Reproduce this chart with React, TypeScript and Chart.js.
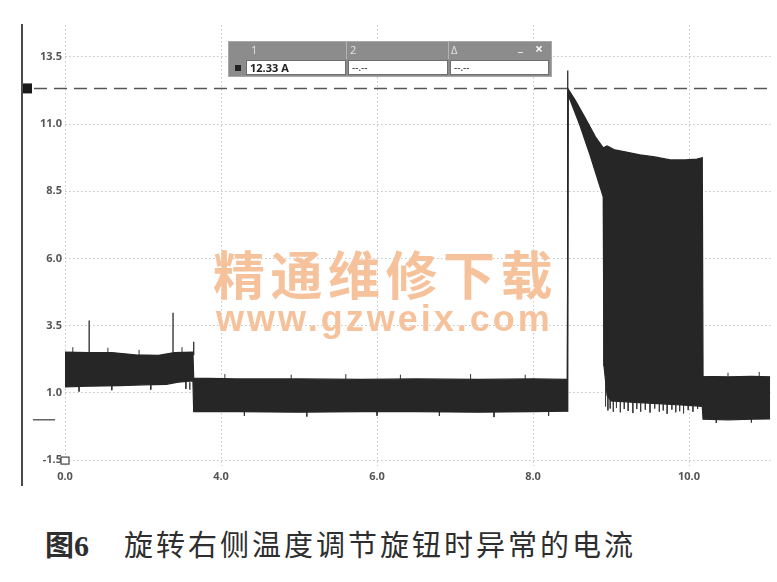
import React, { useEffect, useRef } from "react";
import { Chart, registerables } from "chart.js";

Chart.register(...registerables);

// ---- axis ticks ----
const xTickValues = [2, 4, 6, 8, 10];
const xTickLabels = ["0.0", "4.0", "6.0", "8.0", "10.0"];
const yTickValues = [-1.5, 1.0, 3.5, 6.0, 8.5, 11.0, 13.5];

// ---- trace envelope (time, amperes) ----
const upperT = [2.0, 2.3, 2.6, 2.9, 3.2, 3.4, 3.64,
  3.65, 4.2, 5.0, 5.8, 6.5, 7.3, 8.0, 8.44,
  8.45, 8.54, 8.67, 8.8, 8.9, 8.95, 9.05, 9.18, 9.37, 9.56, 9.76, 9.95, 10.1, 10.17,
  10.18, 10.5, 10.8, 11.04];
const upperV = [2.52, 2.5, 2.5, 2.42, 2.4, 2.5, 2.52,
  1.55, 1.52, 1.52, 1.5, 1.52, 1.5, 1.52, 1.5,
  12.31, 11.9, 11.23, 10.53, 10.12, 10.19, 10.04, 9.97, 9.86, 9.78, 9.67, 9.67, 9.7, 9.75,
  1.62, 1.6, 1.62, 1.6];
const lowerT = [2.0, 2.3, 2.7, 3.0, 3.3, 3.45, 3.64,
  3.65, 4.2, 5.0, 5.8, 6.5, 7.3, 8.0, 8.44,
  8.45, 8.6, 8.73, 8.9, 8.91, 8.95, 9.0, 9.3, 9.6, 9.9, 10.17,
  10.18, 10.5, 10.8, 11.04];
const lowerV = [1.22, 1.25, 1.27, 1.3, 1.32, 1.4, 1.45,
  0.3, 0.3, 0.28, 0.3, 0.3, 0.28, 0.3, 0.32,
  12.09, 10.97, 9.86, 8.3, 2.0, 0.9, 0.7, 0.65, 0.6, 0.55, 0.5,
  0.02, 0.0, 0.02, 0.03];

// ---- isolated spikes (time, from, to) ----
const spikeT = [2.31, 3.385, 3.65, 3.6, 8.445];
const spikeFrom = [2.5, 2.5, 2.4, 1.4, 0.3];
const spikeTo = [3.69, 3.98, 2.9, 1.12, 13.0];

// ---- small noise excursions on the band edges ----
const noiseT = [2.1, 2.18, 2.55, 2.6, 2.95, 3.1, 3.5, 3.55,
  4.05, 4.3, 4.9, 5.1, 5.6, 6.0, 6.3, 6.8, 7.2, 7.5, 7.9, 8.2,
  10.35, 10.5, 10.8, 10.9];
const noiseFrom = [2.5, 1.23, 2.5, 1.27, 2.42, 1.3, 2.5, 1.42,
  1.52, 0.3, 1.52, 0.28, 1.5, 0.3, 1.51, 0.3, 1.51, 0.29, 1.52, 0.3,
  0.0, 1.6, 0.02, 1.61];
const noiseTo = [2.7, 1.05, 2.68, 1.1, 2.6, 1.12, 2.7, 1.15,
  1.7, 0.15, 1.68, 0.12, 1.7, 0.15, 1.68, 0.14, 1.7, 0.1, 1.68, 0.15,
  -0.12, 1.75, -0.1, 1.78];

// ---- downward spikes at the bottom of the high-current burst ----
const combT = [8.93, 8.96, 8.99, 9.03, 9.07, 9.12, 9.17, 9.22, 9.28, 9.33, 9.38, 9.44, 9.5, 9.56, 9.62, 9.67, 9.72, 9.78, 9.83, 9.88, 9.93, 9.99, 10.05, 10.11];
const combFrom = [1.5, 0.9, 0.8, 0.75, 0.72, 0.7, 0.68, 0.66, 0.65, 0.64, 0.63, 0.62, 0.61, 0.6, 0.6, 0.58, 0.58, 0.57, 0.56, 0.55, 0.55, 0.53, 0.52, 0.51];
const combTo = [0.5, 0.35, 0.42, 0.3, 0.45, 0.28, 0.4, 0.33, 0.25, 0.4, 0.3, 0.38, 0.27, 0.42, 0.3, 0.35, 0.22, 0.38, 0.28, 0.32, 0.24, 0.36, 0.3, 0.4];

// ---- cursor / markers ----
const cursorLevel = 12.33;
const zeroLevel = 0.0;
const xMin = 2.0;
const xMax = 11.064;
const yMin = -1.72;
const yMax = 14.69;

const TRACE = "#262626";

function pairs(t: number[], v: number[]) {
  return t.map((x, i) => ({ x, y: v[i] }));
}
function segs(t: number[], a: number[], b: number[]) {
  const out: any[] = [];
  t.forEach((x, i) => {
    out.push({ x, y: a[i] });
    out.push({ x, y: b[i] });
    out.push({ x, y: null });
  });
  return out;
}

const overlayPlugin = {
  id: "scopeOverlay",
  beforeDatasetsDraw(chart: any) {
    const ctx = chart.ctx;
    const y = chart.scales.y.getPixelForValue(cursorLevel);
    ctx.save();
    ctx.strokeStyle = "#555";
    ctx.lineWidth = 1.6;
    ctx.setLineDash([13, 7]);
    ctx.beginPath();
    ctx.moveTo(34, Math.round(y) + 0.5);
    ctx.lineTo(chart.chartArea.right, Math.round(y) + 0.5);
    ctx.stroke();
    ctx.restore();
  },
  afterDraw(chart: any) {
    const ctx = chart.ctx;
    const ys = chart.scales.y;
    const xs = chart.scales.x;
    ctx.save();
    ctx.strokeStyle = "#4a4a4a";
    ctx.lineWidth = 2;
    ctx.beginPath();
    ctx.moveTo(22, 24);
    ctx.lineTo(22, 486);
    ctx.stroke();
    const yc = ys.getPixelForValue(cursorLevel);
    ctx.fillStyle = "#1a1a1a";
    ctx.fillRect(23, yc - 5, 9, 10);
    const yz = ys.getPixelForValue(zeroLevel);
    ctx.strokeStyle = "#666";
    ctx.lineWidth = 1.5;
    ctx.beginPath();
    ctx.moveTo(33, yz);
    ctx.lineTo(55, yz);
    ctx.stroke();
    const xo = xs.getPixelForValue(xMin);
    const yo = ys.getPixelForValue(-1.5);
    ctx.strokeStyle = "#444";
    ctx.lineWidth = 1.2;
    ctx.fillStyle = "#fff";
    ctx.fillRect(xo - 4, yo - 3, 8, 7);
    ctx.strokeRect(xo - 4, yo - 3, 8, 7);
    ctx.restore();
  },
};

function ScopeChart() {
  const ref = useRef<HTMLCanvasElement | null>(null);
  useEffect(() => {
    if (!ref.current) return;
    const chart = new Chart(ref.current, {
      type: "line",
      data: {
        datasets: [
          { label: "lower", data: pairs(lowerT, lowerV), borderColor: TRACE, borderWidth: 1.2, pointRadius: 0, fill: false },
          { label: "upper", data: pairs(upperT, upperV), borderColor: TRACE, backgroundColor: TRACE, borderWidth: 1.2, pointRadius: 0, fill: "-1" },
          { label: "noise", data: segs(noiseT, noiseFrom, noiseTo), borderColor: "#333", borderWidth: 1, pointRadius: 0, spanGaps: false, fill: false },
          { label: "spikes", data: segs(spikeT, spikeFrom, spikeTo), borderColor: "#3a3a3a", borderWidth: 1.4, pointRadius: 0, spanGaps: false, fill: false },
          { label: "comb", data: segs(combT, combFrom, combTo), borderColor: "#3c3c3c", borderWidth: 1, pointRadius: 0, spanGaps: false, fill: false },
        ],
      },
      options: {
        animation: false,
        responsive: false,
        devicePixelRatio: 1,
        layout: { padding: { top: 25, right: 5, left: 0, bottom: 0 } },
        plugins: {
          legend: { display: false },
          tooltip: { enabled: false },
          filler: { propagate: false },
        },
        elements: { line: { tension: 0 } },
        scales: {
          x: {
            type: "linear",
            min: xMin,
            max: xMax,
            afterBuildTicks: (s: any) => {
              s.ticks = xTickValues.map((v) => ({ value: v }));
            },
            afterFit: (s: any) => {
              s.height = 34;
            },
            ticks: {
              autoSkip: false,
              maxRotation: 0,
              padding: 4,
              color: "#555",
              font: { family: "'Open Sans'", size: 11, weight: "bold" },
              callback: (v: any) => {
                const i = xTickValues.indexOf(Number(v));
                return i >= 0 ? xTickLabels[i] : "";
              },
            },
            grid: { color: "#c6c6c6", lineWidth: 1, drawTicks: false },
            border: { display: false, dash: [1.5, 2.5] },
          },
          y: {
            type: "linear",
            min: yMin,
            max: yMax,
            afterBuildTicks: (s: any) => {
              s.ticks = yTickValues.map((v) => ({ value: v }));
            },
            afterFit: (s: any) => {
              s.width = 65;
            },
            ticks: {
              autoSkip: false,
              padding: 3,
              color: "#555",
              font: { family: "'Open Sans'", size: 11, weight: "bold" },
              callback: (v: any) => Number(v).toFixed(1),
            },
            grid: { color: "#c6c6c6", lineWidth: 1, drawTicks: false },
            border: { display: false, dash: [1.5, 2.5] },
          },
        },
      },
      plugins: [overlayPlugin],
    } as any);
    return () => chart.destroy();
  }, []);
  return <canvas ref={ref} width={777} height={500} style={{ position: "absolute", left: 0, top: 0, width: 777, height: 500 }} />;
}

const wmColor = "#f6c29c";

export default function App() {
  const cell: React.CSSProperties = {
    position: "absolute",
    top: 60,
    height: 15,
    background: "#fff",
    border: "1px solid #6e6e6e",
    boxSizing: "border-box",
    fontFamily: "'Open Sans', sans-serif",
    lineHeight: "13px",
    color: "#222",
    paddingLeft: 3,
  };
  const head: React.CSSProperties = {
    position: "absolute",
    top: 42,
    fontFamily: "'Open Sans', sans-serif",
    fontSize: 11,
    lineHeight: "16px",
    color: "#e4e4e4",
  };
  return (
    <div style={{ position: "fixed", left: 0, top: 0, width: 777, height: 582, background: "#fff", overflow: "hidden" }}>
      <ScopeChart />
      <div
        style={{
          position: "absolute", left: 213, top: 247, fontFamily: "'Noto Sans CJK SC', sans-serif", fontWeight: 700,
          fontSize: 52, lineHeight: 1, letterSpacing: 5.5, color: wmColor, whiteSpace: "nowrap", pointerEvents: "none",
        }}
      >
        精通维修下载
      </div>
      <div
        style={{
          position: "absolute", left: 216, top: 301, fontFamily: "'Liberation Sans', sans-serif", fontWeight: 700,
          fontSize: 36, lineHeight: 1, letterSpacing: 3, color: wmColor, whiteSpace: "nowrap", pointerEvents: "none",
        }}
      >
        www.gzweix.com
      </div>
      <div style={{ position: "absolute", left: 228, top: 41, width: 324, height: 36, background: "#8c8c8c", border: "1px solid #a8a8a8", boxSizing: "border-box" }} />
      <div style={{ position: "absolute", left: 346, top: 42, width: 1, height: 17, background: "#b4b4b4" }} />
      <div style={{ position: "absolute", left: 448, top: 42, width: 1, height: 17, background: "#b4b4b4" }} />
      <div style={{ ...head, left: 251 }}>1</div>
      <div style={{ ...head, left: 350 }}>2</div>
      <div style={{ ...head, left: 451 }}>Δ</div>
      <div style={{ ...head, left: 518, top: 39, color: "#f4f4f4", fontWeight: 700, fontSize: 12 }}>_</div>
      <div style={{ ...head, left: 535, top: 41, color: "#f4f4f4", fontWeight: 700, fontSize: 14 }}>×</div>
      <div style={{ position: "absolute", left: 235, top: 65, width: 6, height: 6, background: "#222" }} />
      <div style={{ ...cell, left: 246, width: 100, fontSize: 11, fontWeight: 700 }}>12.33 A</div>
      <div style={{ ...cell, left: 348, width: 100, fontSize: 10 }}>--.--</div>
      <div style={{ ...cell, left: 450, width: 99, fontSize: 10 }}>--.--</div>
      <div
        style={{
          position: "absolute", left: 45, top: 529, whiteSpace: "nowrap", color: "#2e2e2e", lineHeight: 1,
          fontFamily: "'Noto Sans CJK SC', sans-serif", fontSize: 29,
        }}
      >
        <span style={{ fontWeight: 700 }}>图</span>
        <span style={{ fontFamily: "'Liberation Serif', serif", fontWeight: 700, fontSize: 30 }}>6</span>
        <span style={{ display: "inline-block", width: 35 }} />
        <span style={{ letterSpacing: 3 }}>旋转右侧温度调节旋钮时异常的电流</span>
      </div>
    </div>
  );
}
